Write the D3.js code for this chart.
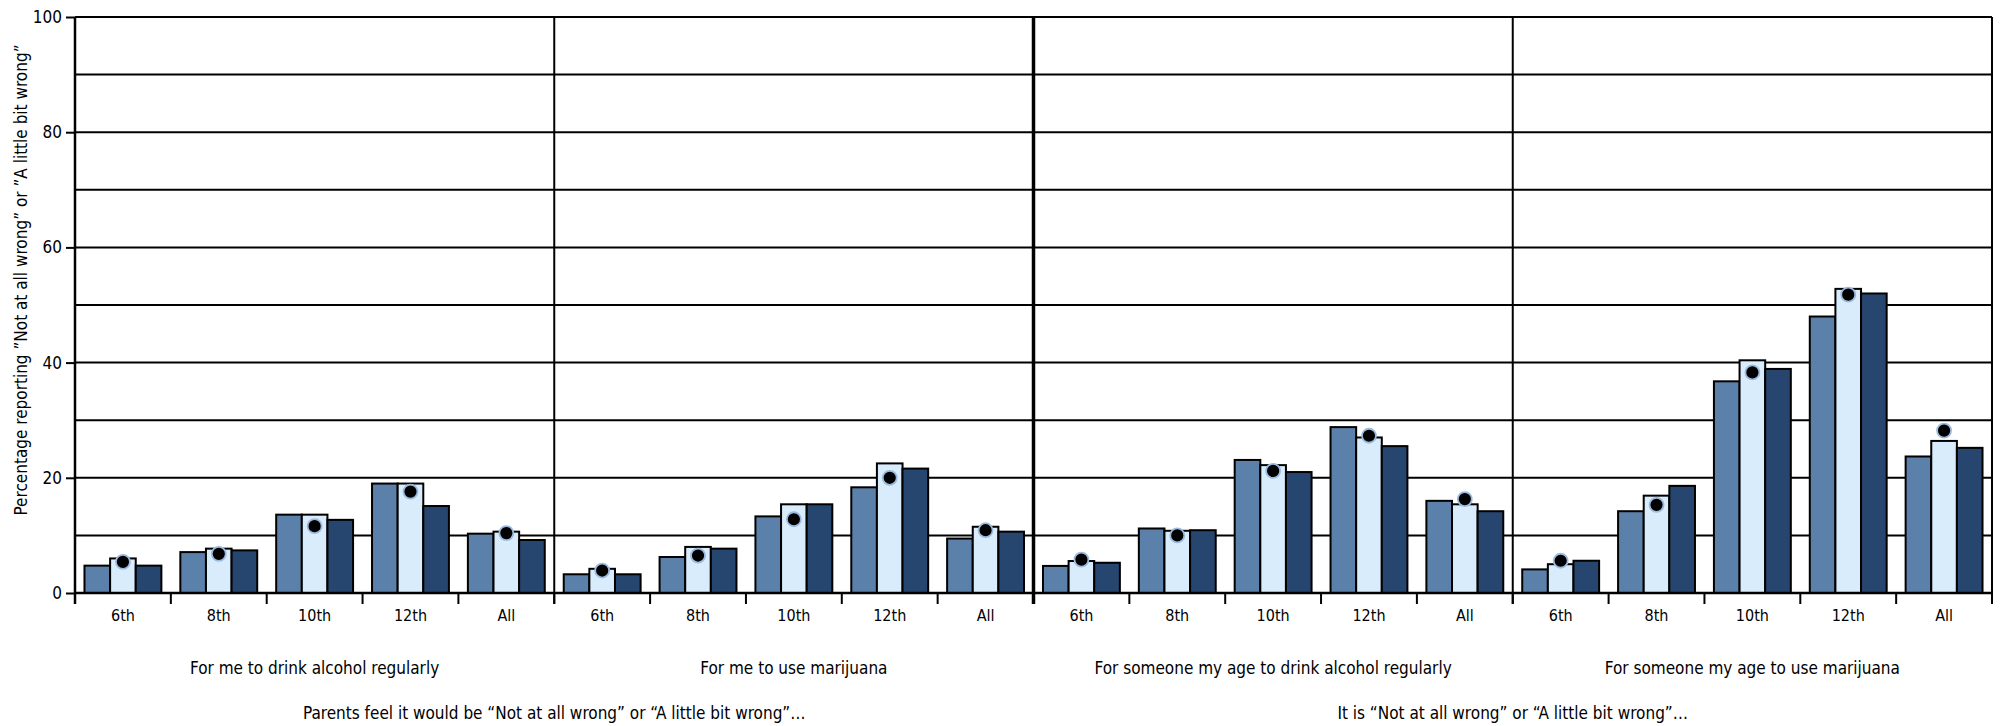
<html>
<head>
<script src="https://cdnjs.cloudflare.com/ajax/libs/d3/7.8.5/d3.min.js"></script>
<style>
  body { margin: 0; background: #fff; }
  text { font-family: "Liberation Sans Narrow", "DejaVu Sans Condensed", sans-serif; fill: #000; }
</style>
</head>
<body>
<script>
var panels = ["For me to drink alcohol regularly", "For me to use marijuana",
              "For someone my age to drink alcohol regularly", "For someone my age to use marijuana"];
var sections = ["Parents feel it would be \u201cNot at all wrong\u201d or \u201cA little bit wrong\u201d\u2026",
                "It is \u201cNot at all wrong\u201d or \u201cA little bit wrong\u201d\u2026"];
var grades = ["6th", "8th", "10th", "12th", "All"];
var yTicks = [0, 20, 40, 60, 80, 100];

// three bars per grade, one list per panel
var barA = [[4.75, 7.1, 13.6, 19.0, 10.3],
            [3.25, 6.25, 13.3, 18.35, 9.45],
            [4.7, 11.2, 23.1, 28.8, 16.0],
            [4.1, 14.2, 36.75, 48.0, 23.7]];
var barB = [[6.0, 7.7, 13.6, 19.0, 10.65],
            [4.2, 8.0, 15.4, 22.5, 11.5],
            [5.55, 10.8, 22.2, 27.0, 15.4],
            [5.0, 16.9, 40.4, 52.8, 26.4]];
var barC = [[4.75, 7.4, 12.7, 15.1, 9.2],
            [3.25, 7.7, 15.4, 21.6, 10.65],
            [5.25, 10.9, 21.0, 25.5, 14.2],
            [5.6, 18.6, 38.9, 52.0, 25.2]];
var dots = [[5.4, 6.8, 11.6, 17.6, 10.4],
            [3.9, 6.5, 12.8, 20.0, 10.9],
            [5.8, 10.0, 21.2, 27.3, 16.3],
            [5.6, 15.3, 38.3, 51.8, 28.2]];

var colors = ["#5b80a9", "#d9ecfc", "#27466f"];

window.onload = function () {
  var W = 2001, H = 726;
  var mLeft = 75, mRight = 1992, mTop = 17, mBottom = 593;

  var svg = d3.select("body").append("svg").attr("width", W).attr("height", H);

  var groups = [];
  panels.forEach(function (p, pi) {
    grades.forEach(function (g, gi) {
      groups.push({ key: pi + "-" + gi, panel: pi, grade: g,
        vals: [barA[pi][gi], barB[pi][gi], barC[pi][gi]], dot: dots[pi][gi] });
    });
  });

  var x0 = d3.scaleBand().domain(groups.map(function (d) { return d.key; }))
    .range([mLeft, mRight]).padding(0);
  var x1 = d3.scaleBand().domain([0, 1, 2]).range([0, x0.bandwidth()])
    .paddingInner(0).paddingOuter(0.37);
  var y = d3.scaleLinear().domain([0, 100]).range([mBottom, mTop]);

  // grid lines every 10
  svg.append("g").selectAll("line")
    .data(d3.range(10, 101, 10))
    .enter().append("line")
    .attr("x1", mLeft).attr("x2", mRight)
    .attr("y1", function (d) { return y(d); }).attr("y2", function (d) { return y(d); })
    .attr("stroke", "#000").attr("stroke-width", 2);

  // bars
  var g = svg.append("g").selectAll("g")
    .data(groups).enter().append("g")
    .attr("transform", function (d) { return "translate(" + x0(d.key) + ",0)"; });

  g.selectAll("rect")
    .data(function (d) { return d.vals; })
    .enter().append("rect")
    .attr("x", function (d, i) { return x1(i); })
    .attr("y", function (d) { return y(d); })
    .attr("width", x1.bandwidth())
    .attr("height", function (d) { return mBottom - y(d); })
    .attr("fill", function (d, i) { return colors[i]; })
    .attr("stroke", "#000").attr("stroke-width", 2);

  g.append("circle")
    .attr("cx", x1(1) + x1.bandwidth() / 2)
    .attr("cy", function (d) { return y(d.dot); })
    .attr("r", 7)
    .attr("fill", "#000")
    .attr("stroke", "#9cbadf").attr("stroke-width", 1.8);

  // x baseline
  svg.append("line").attr("x1", mLeft).attr("x2", mRight)
    .attr("y1", mBottom).attr("y2", mBottom)
    .attr("stroke", "#000").attr("stroke-width", 2.5);

  // group boundary ticks
  var bounds = groups.map(function (d) { return x0(d.key); }).concat([mRight]);
  svg.append("g").selectAll("line")
    .data(bounds).enter().append("line")
    .attr("x1", function (d) { return d; }).attr("x2", function (d) { return d; })
    .attr("y1", mBottom).attr("y2", mBottom + 11)
    .attr("stroke", "#000").attr("stroke-width", 2);

  // panel separators
  var seps = [1, 2, 3].map(function (pi) { return { x: x0(pi + "-0"), thick: pi == 2 }; });
  seps.push({ x: mRight, thick: false });
  svg.append("g").selectAll("line")
    .data(seps).enter().append("line")
    .attr("x1", function (d) { return d.x; }).attr("x2", function (d) { return d.x; })
    .attr("y1", mTop).attr("y2", mBottom + 11)
    .attr("stroke", "#000").attr("stroke-width", function (d) { return d.thick ? 3.5 : 2; });

  // grade labels
  var xAxis = svg.append("g").attr("transform", "translate(0," + mBottom + ")")
    .call(d3.axisBottom(x0).tickSize(0).tickPadding(17)
      .tickFormat(function (k) { return groups.find(function (d) { return d.key == k; }).grade; }));
  xAxis.select(".domain").remove();
  xAxis.selectAll("text").attr("font-size", 16).attr("font-family", null);

  // y axis
  var yAxis = svg.append("g").attr("transform", "translate(" + mLeft + ",0)")
    .call(d3.axisLeft(y).tickValues(yTicks).tickSize(9).tickPadding(4));
  yAxis.select(".domain").remove();
  yAxis.selectAll("line").attr("stroke-width", 2);
  yAxis.selectAll("text").attr("font-size", 17).attr("font-family", null);
  svg.append("line").attr("x1", mLeft).attr("x2", mLeft)
    .attr("y1", mTop).attr("y2", mBottom + 11)
    .attr("stroke", "#000").attr("stroke-width", 2.5);

  // panel titles
  svg.append("g").selectAll("text")
    .data(panels).enter().append("text")
    .attr("x", function (d, i) { return (x0(i + "-0") + x0(i + "-4") + x0.bandwidth()) / 2; })
    .attr("y", 674)
    .attr("text-anchor", "middle").attr("font-size", 17)
    .text(function (d) { return d; });

  svg.append("g").selectAll("text")
    .data(sections).enter().append("text")
    .attr("x", function (d, i) { return (x0((2 * i) + "-0") + x0((2 * i + 1) + "-4") + x0.bandwidth()) / 2; })
    .attr("y", 719)
    .attr("text-anchor", "middle").attr("font-size", 17)
    .text(function (d) { return d; });

  svg.append("text")
    .attr("transform", "translate(27,280) rotate(-90)")
    .attr("text-anchor", "middle").attr("font-size", 17)
    .text("Percentage reporting \u201dNot at all wrong\u201d or \u201dA little bit wrong\u201d");
};
</script>
</body>
</html>
